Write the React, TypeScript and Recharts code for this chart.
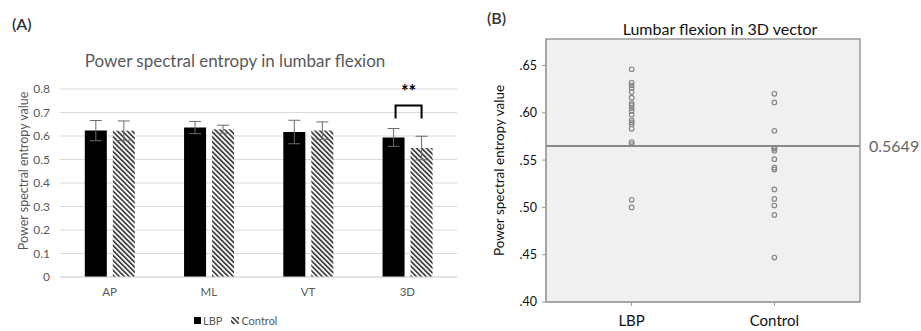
import React from 'react';
import {
  BarChart, Bar, XAxis, YAxis, CartesianGrid, ErrorBar, Legend, LabelList,
  ScatterChart, Scatter, ReferenceLine, ReferenceArea,
} from 'recharts';

// ---------- Panel A data ----------
const categories = ['AP', 'ML', 'VT', '3D'];
const lbpMeans = [0.623, 0.636, 0.617, 0.594];
const lbpErrors = [0.043, 0.026, 0.05, 0.038];
const controlMeans = [0.622, 0.629, 0.623, 0.549];
const controlErrors = [0.042, 0.017, 0.037, 0.05];
const significance = ['', '', '', '**'];
const bracketTop = 0.73;
const bracketBottom = 0.674;
const yTicksA = [0, 0.1, 0.2, 0.3, 0.4, 0.5, 0.6, 0.7, 0.8];

// ---------- Panel B data ----------
const groups = ['LBP', 'Control'];
const lbpValues = [0.646, 0.632, 0.629, 0.626, 0.622, 0.616, 0.610, 0.608, 0.605, 0.602,
  0.598, 0.592, 0.590, 0.588, 0.583, 0.569, 0.567, 0.508, 0.500];
const controlValues = [0.620, 0.611, 0.581, 0.563, 0.562, 0.560, 0.551, 0.542, 0.540,
  0.519, 0.509, 0.502, 0.492, 0.447];
const cutoff = 0.5649;
const yTicksB = [0.4, 0.45, 0.5, 0.55, 0.6, 0.65];

const dataA = categories.map((c, i) => ({
  name: c,
  lbp: lbpMeans[i],
  lbpErr: lbpErrors[i],
  control: controlMeans[i],
  controlErr: controlErrors[i],
  sig: significance[i],
}));

const lbpPts = lbpValues.map((v) => ({ x: 1, y: v }));
const controlPts = controlValues.map((v) => ({ x: 2, y: v }));

const FONT = 'Lato, "Open Sans", sans-serif';
const BAR_GAP = 6;

const Bracket = (props: any) => {
  const { x, y, width, height, index, value } = props;
  if (!value) return null;
  const v = dataA[index].lbp;
  const k = height / v;
  const base = y + height;
  const yTop = base - bracketTop * k;
  const yBot = base - bracketBottom * k;
  const x1 = x + width / 2 + 2;
  const x2 = x + width * 1.5 + BAR_GAP;
  return (
    <g>
      <path d={`M${x1},${yBot} L${x1},${yTop} L${x2},${yTop} L${x2},${yBot}`}
        fill="none" stroke="#000" strokeWidth={2} />
      <text x={(x1 + x2) / 2} y={yTop - 7} textAnchor="middle" fontSize={18}
        fontWeight="bold" fill="#000" fontFamily={FONT}>{value}</text>
    </g>
  );
};

const Dot = (props: any) => {
  const { cx, cy } = props;
  return <circle cx={cx} cy={cy} r={2.3} fill="none" stroke="#858585" strokeWidth={1.1} />;
};

const LegendA = () => (
  <div style={{ display: 'flex', alignItems: 'center', fontFamily: FONT, fontSize: 11, color: '#595959', whiteSpace: 'nowrap' }}>
    <svg width={7} height={7} style={{ marginRight: 2 }}>
      <rect width={7} height={7} fill="#000" />
    </svg>
    <span style={{ marginRight: 9 }}>LBP</span>
    <svg width={8} height={7} style={{ marginRight: 2 }}>
      <defs>
        <pattern id="hatchLegend" width={3.5} height={3.5} patternUnits="userSpaceOnUse" patternTransform="rotate(-45)">
          <rect width={1.6} height={3.5} fill="#333" />
        </pattern>
      </defs>
      <rect width={8} height={7} fill="url(#hatchLegend)" />
    </svg>
    <span>Control</span>
  </div>
);

export default function App() {
  return (
    <div style={{ position: 'absolute', left: 0, top: 0, width: 921, height: 331, background: '#fff', overflow: 'hidden' }}>
      {/* Panel A */}
      <div style={{ position: 'absolute', left: 12, top: 14, fontFamily: FONT, fontSize: 16, fontWeight: 600, color: '#333' }}>(A)</div>
      <div style={{ position: 'absolute', left: 0, width: 470, top: 50, textAlign: 'center', fontFamily: FONT, fontSize: 17, color: '#595959' }}>
        Power spectral entropy in lumbar flexion
      </div>
      <div style={{ position: 'absolute', left: 0, top: 0 }}>
        <BarChart width={470} height={331} data={dataA}
          margin={{ top: 89, right: 13, bottom: 24, left: 0 }}
          barCategoryGap="25%" barGap={BAR_GAP}>
          <defs>
            <pattern id="hatchA" width={3.5} height={3.5} patternUnits="userSpaceOnUse" patternTransform="rotate(-45)">
              <rect width={3.5} height={3.5} fill="#fff" />
              <rect width={1.6} height={3.5} fill="#333" />
            </pattern>
          </defs>
          <CartesianGrid vertical={false} stroke="#d9d9d9" />
          <XAxis dataKey="name" height={30} axisLine={{ stroke: '#d9d9d9' }} tickLine={false}
            tickMargin={5} tick={{ fontSize: 11.5, fill: '#595959', fontFamily: FONT }} />
          <YAxis width={60} domain={[0, 0.8]} ticks={yTicksA} axisLine={false} tickLine={false}
            tickMargin={4} tick={{ fontSize: 12, fill: '#595959', fontFamily: FONT }}
            label={{ value: 'Power spectral entropy value', angle: -90, position: 'center', dx: -6, dy: -12, fontSize: 12.5, fill: '#595959', fontFamily: FONT }} />
          <Bar dataKey="lbp" name="LBP" fill="#000" isAnimationActive={false}>
            <ErrorBar dataKey="lbpErr" width={6} stroke="#6b6b6b" strokeWidth={1} />
            <LabelList dataKey="sig" content={Bracket} />
          </Bar>
          <Bar dataKey="control" name="Control" fill="url(#hatchA)" isAnimationActive={false}>
            <ErrorBar dataKey="controlErr" width={6} stroke="#6b6b6b" strokeWidth={1} />
          </Bar>
          <Legend verticalAlign="middle" align="center" content={LegendA}
            wrapperStyle={{ top: 314, left: 194, width: 'auto', height: 'auto' }} />
        </BarChart>
      </div>

      {/* Panel B */}
      <div style={{ position: 'absolute', left: 487, top: 8, fontFamily: FONT, fontSize: 16, fontWeight: 600, color: '#333' }}>(B)</div>
      <div style={{ position: 'absolute', left: 546, width: 348, top: 19, textAlign: 'center', fontFamily: FONT, fontSize: 16, color: '#111' }}>
        Lumbar flexion in 3D vector
      </div>
      <div style={{ position: 'absolute', left: 460, top: 0 }}>
        <ScatterChart width={461} height={331} margin={{ top: 39, right: 61, bottom: 0, left: 0 }}>
          <XAxis type="number" dataKey="x" domain={[0.4, 2.6]} ticks={[1, 2]} allowDataOverflow
            tickFormatter={(v: number) => groups[v - 1]} height={29}
            axisLine={{ stroke: '#999' }} tickLine={{ stroke: '#999' }} tickSize={4} tickMargin={9}
            tick={{ fontSize: 15, fill: '#111', fontFamily: FONT }} />
          <YAxis type="number" dataKey="y" domain={[0.4, 0.678]} ticks={yTicksB} allowDataOverflow
            tickFormatter={(v: number) => v.toFixed(2).replace(/^0/, '')} width={86}
            axisLine={{ stroke: '#999' }} tickLine={{ stroke: '#999' }} tickSize={4} tickMargin={5}
            tick={{ fontSize: 12.5, fill: '#111', fontFamily: FONT }}
            label={{ value: 'Power spectral entropy value', angle: -90, position: 'center', dx: -4, dy: 0, fontSize: 13.5, fill: '#111', fontFamily: FONT }} />
          <ReferenceArea x1={0.4} x2={2.6} y1={0.4} y2={0.678} fill="#f0f0f0" fillOpacity={1} stroke="#9a9a9a" strokeWidth={1.5} ifOverflow="visible" />
          <ReferenceLine y={cutoff} stroke="#8a8a8a" strokeWidth={2}
            label={{ value: String(cutoff), position: 'right', offset: 9, fontSize: 16, fill: '#666', fontFamily: FONT }} />
          <Scatter data={lbpPts} shape={Dot} isAnimationActive={false} />
          <Scatter data={controlPts} shape={Dot} isAnimationActive={false} />
        </ScatterChart>
      </div>
    </div>
  );
}
